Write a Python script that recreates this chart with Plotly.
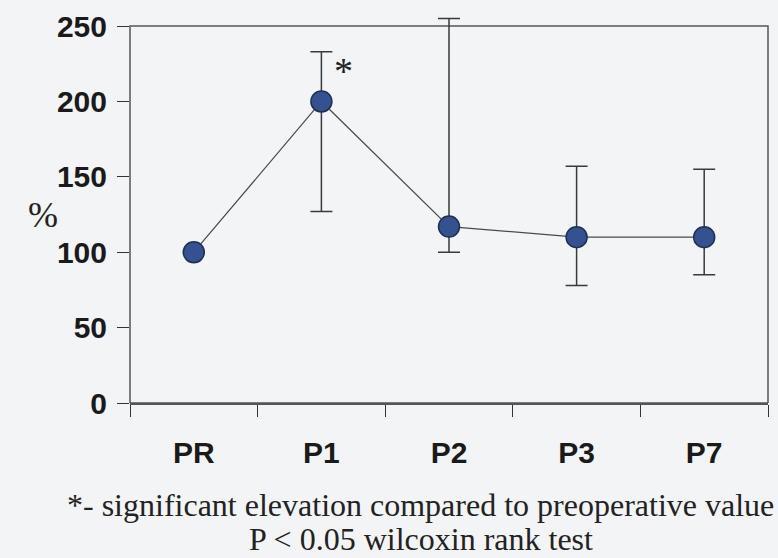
import plotly.graph_objects as go

categories = ["PR", "P1", "P2", "P3", "P7"]
values = [100, 200, 117, 110, 110]
err_upper = [0, 33, 138, 47, 45]
err_lower = [0, 73, 17, 32, 25]
y_ticks = [0, 50, 100, 150, 200, 250]

W, H = 778, 558
ml, mr, mt, mb = 130, 10, 10, 155
pw = W - ml - mr
ph = H - mt - mb
y_top = 258
BG = "#f3f4f6"

fig = go.Figure()
fig.add_trace(go.Scatter(
    x=categories, y=values,
    mode="lines+markers",
    line=dict(color="#4a4a4a", width=1.2),
    marker=dict(size=21, color="#34528f", line=dict(color="#1f2f55", width=1.5)),
    error_y=dict(type="data", symmetric=False, array=err_upper, arrayminus=err_lower,
                 color="#3a3a3a", thickness=1.5, width=11),
    cliponaxis=False,
    showlegend=False,
))

fig.add_shape(type="rect", xref="paper", yref="y", x0=0, x1=1, y0=0, y1=max(y_ticks),
              line=dict(color="#555", width=1.5), fillcolor="rgba(0,0,0,0)", layer="below")

fig.update_layout(
    width=W, height=H,
    margin=dict(l=ml, r=mr, t=mt, b=mb),
    paper_bgcolor=BG,
    plot_bgcolor=BG,
    font=dict(family="Liberation Sans, Arial", color="#1a1a1a"),
    xaxis=dict(
        type="category", range=[-0.5, 4.5],
        tickson="boundaries", ticks="outside", ticklen=12, tickcolor="#333",
        showline=True, linecolor="#555", linewidth=1.5,
        showgrid=False, zeroline=False,
        tickfont=dict(size=30, family="Liberation Sans, Arial", weight="bold"),
        ticklabelstandoff=22,
    ),
    yaxis=dict(
        range=[0, y_top], tickvals=y_ticks,
        ticks="outside", ticklen=12, tickcolor="#333",
        showline=False,
        showgrid=False, zeroline=False,
        tickfont=dict(size=30, family="Liberation Sans, Arial", weight="bold"),
        ticklabelstandoff=4,
    ),
    annotations=[
        dict(text="%", xref="paper", yref="paper",
             x=(26 - ml) / pw, y=(H - mb - 213) / ph,
             showarrow=False, font=dict(family="Liberation Serif", size=36, color="#222")),
        dict(text="*", xref="x", yref="y", x=1, xshift=22, y=220,
             showarrow=False, font=dict(family="Liberation Serif", size=38, color="#222")),
        dict(text="*- significant elevation compared to preoperative value",
             xref="paper", yref="paper", x=(776 - ml) / pw, xanchor="right",
             y=(H - mb - 506) / ph, yanchor="middle",
             showarrow=False, font=dict(family="Liberation Serif", size=32, color="#222")),
        dict(text="P &lt; 0.05 wilcoxin rank test",
             xref="paper", yref="paper", x=(421 - ml) / pw, xanchor="center",
             y=(H - mb - 540) / ph, yanchor="middle",
             showarrow=False, font=dict(family="Liberation Serif", size=32, color="#222")),
    ],
)

fig.write_html(
    "out.html",
    config={"displayModeBar": False},
    post_script="document.body.style.margin='0';document.body.style.background='%s';" % BG,
)
